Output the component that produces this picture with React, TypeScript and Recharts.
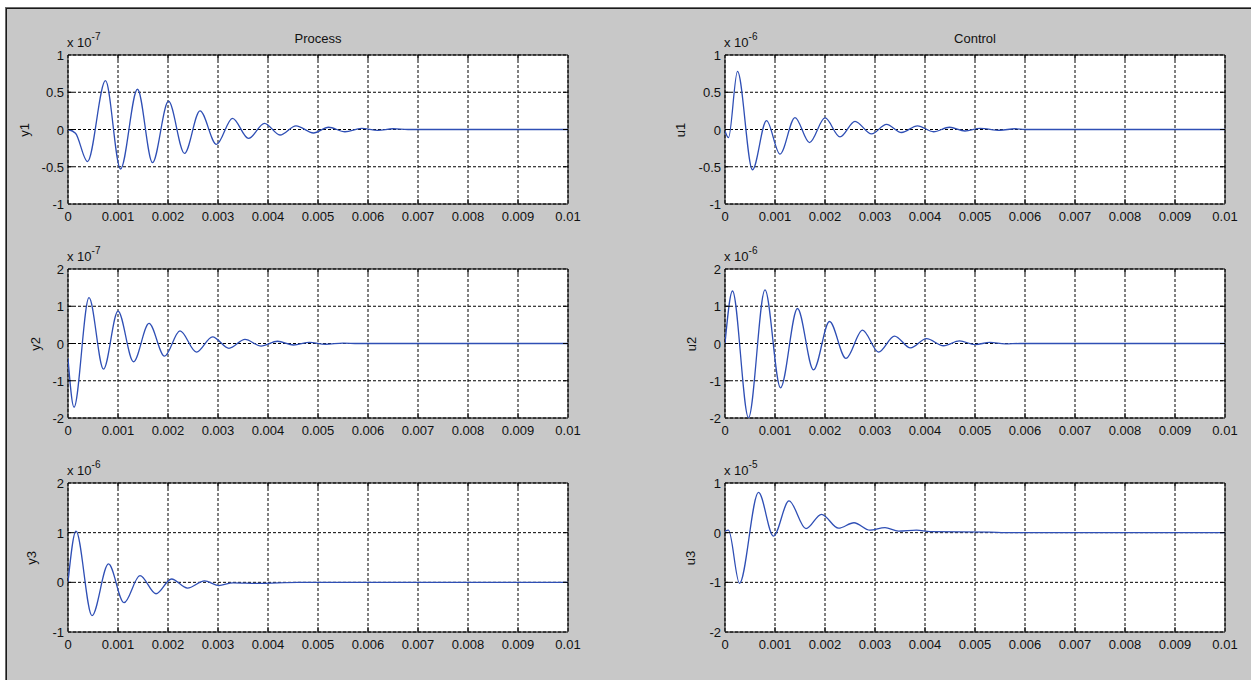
import { LineChart, Line, XAxis, YAxis, CartesianGrid, ReferenceArea } from 'recharts'

// time axis (seconds)
const xTicks = [0, 0.001, 0.002, 0.003, 0.004, 0.005, 0.006, 0.007, 0.008, 0.009, 0.01]
const xTickLabels = ['0', '0.001', '0.002', '0.003', '0.004', '0.005', '0.006', '0.007', '0.008', '0.009', '0.01']

// y1 (x 1e-7)
const y1Time = [0, 0.00015, 0.00039, 0.00075, 0.00105, 0.00139, 0.00169, 0.00201, 0.00233, 0.00264, 0.00297, 0.00329, 0.00361, 0.00393, 0.00424, 0.00456, 0.00491, 0.00521, 0.00554, 0.00587, 0.0062, 0.0065, 0.0068, 0.01]
const y1Values = [0, -0.05, -0.43, 0.655, -0.53, 0.54, -0.445, 0.38, -0.32, 0.25, -0.2, 0.15, -0.12, 0.083, -0.074, 0.05, -0.047, 0.03, -0.03, 0.015, -0.012, 0.01, 0, 0]

// y2 (x 1e-7)
const y2Time = [0, 0.00012, 0.00042, 0.00071, 0.001, 0.00131, 0.00162, 0.00193, 0.00224, 0.00257, 0.00289, 0.00322, 0.00354, 0.00386, 0.00419, 0.00451, 0.00483, 0.00515, 0.0055, 0.0058, 0.01]
const y2Values = [-0.4, -1.71, 1.23, -0.69, 0.87, -0.49, 0.54, -0.34, 0.34, -0.23, 0.18, -0.13, 0.11, -0.07, 0.06, -0.04, 0.03, -0.02, 0.01, 0, 0]

// y3 (x 1e-6)
const y3Time = [0, 0.00016, 0.00048, 0.00081, 0.00112, 0.00144, 0.00176, 0.00207, 0.00239, 0.00273, 0.00301, 0.0033, 0.0038, 0.0046, 0.01]
const y3Values = [0, 1.03, -0.67, 0.37, -0.41, 0.135, -0.23, 0.067, -0.115, 0.03, -0.065, -0.01, -0.02, 0, 0]

// u1 (x 1e-6)
const u1Time = [0, 0.00007, 0.00025, 0.00055, 0.00083, 0.0011, 0.0014, 0.00169, 0.002, 0.0023, 0.0026, 0.00293, 0.00323, 0.00353, 0.00385, 0.00417, 0.00449, 0.0048, 0.0051, 0.0055, 0.0058, 0.006, 0.01]
const u1Values = [-0.02, -0.11, 0.78, -0.54, 0.12, -0.33, 0.16, -0.175, 0.155, -0.1, 0.11, -0.06, 0.07, -0.04, 0.05, -0.03, 0.03, -0.02, 0.015, -0.01, 0.01, 0, 0]

// u2 (x 1e-6)
const u2Time = [0, 0.00015, 0.00047, 0.0008, 0.00111, 0.00145, 0.00177, 0.00209, 0.00242, 0.00275, 0.00307, 0.00339, 0.00371, 0.00403, 0.00437, 0.00469, 0.005, 0.0053, 0.0056, 0.0059, 0.01]
const u2Values = [0, 1.41, -1.99, 1.44, -1.19, 0.94, -0.71, 0.59, -0.4, 0.36, -0.23, 0.2, -0.12, 0.13, -0.06, 0.07, -0.03, 0.03, -0.01, 0, 0]

// u3 (x 1e-5)
const u3Time = [0, 0.00007, 0.00029, 0.00067, 0.00097, 0.00128, 0.00162, 0.00193, 0.00227, 0.00258, 0.0029, 0.0032, 0.00347, 0.00383, 0.0041, 0.0053, 0.0056, 0.01]
const u3Values = [0.03, 0.05, -1.02, 0.81, -0.07, 0.64, 0.08, 0.37, 0.09, 0.2, 0.05, 0.1, 0.03, 0.05, 0.02, 0.01, 0, 0]

// y tick sets
const ticksHalf = [-1, -0.5, 0, 0.5, 1]
const ticksHalfLabels = ['-1', '-0.5', '0', '0.5', '1']
const ticksTwo = [-2, -1, 0, 1, 2]
const ticksTwoLabels = ['-2', '-1', '0', '1', '2']
const ticksY3 = [-1, 0, 1, 2]
const ticksY3Labels = ['-1', '0', '1', '2']
const ticksU3 = [-2, -1, 0, 1]
const ticksU3Labels = ['-2', '-1', '0', '1']

const FONT = '"Liberation Sans", Arial, sans-serif'
const LINE = '#2f4fb5'
const TEXT = '#111'
const PLOT_W = 500
const PLOT_H = 149
const Y_AXIS_W = 60
const TOP = 12
const RIGHT = 30

const zip = (t: number[], v: number[]) => t.map((time, i) => ({ time, value: v[i] }))

type Panel = {
  name: string
  exp: string
  title?: string
  data: { time: number; value: number }[]
  yTicks: number[]
  yLabels: string[]
  left: number
  top: number
  labelX: number
}

const panels: Panel[] = [
  { name: 'y1', exp: '-7', title: 'Process', data: zip(y1Time, y1Values), yTicks: ticksHalf, yLabels: ticksHalfLabels, left: 68, top: 55, labelX: 24 },
  { name: 'y2', exp: '-7', data: zip(y2Time, y2Values), yTicks: ticksTwo, yLabels: ticksTwoLabels, left: 68, top: 269, labelX: 35 },
  { name: 'y3', exp: '-6', data: zip(y3Time, y3Values), yTicks: ticksY3, yLabels: ticksY3Labels, left: 68, top: 483, labelX: 31 },
  { name: 'u1', exp: '-6', title: 'Control', data: zip(u1Time, u1Values), yTicks: ticksHalf, yLabels: ticksHalfLabels, left: 725, top: 55, labelX: 680 },
  { name: 'u2', exp: '-6', data: zip(u2Time, u2Values), yTicks: ticksTwo, yLabels: ticksTwoLabels, left: 725, top: 269, labelX: 691 },
  { name: 'u3', exp: '-5', data: zip(u3Time, u3Values), yTicks: ticksU3, yLabels: ticksU3Labels, left: 725, top: 483, labelX: 690 },
]

const XTick = (props: any) => {
  const { x, y, payload } = props
  const i = xTicks.indexOf(payload.value)
  const inner = i > 0 && i < xTicks.length - 1
  return (
    <g>
      {inner && <line x1={x} x2={x} y1={y} y2={y - 5} stroke="#000" />}
      {inner && <line x1={x} x2={x} y1={y - PLOT_H} y2={y - PLOT_H + 5} stroke="#000" />}
      <text x={x} y={y + 17} textAnchor="middle" fontSize={13} fontFamily={FONT} fill={TEXT}>
        {xTickLabels[i]}
      </text>
    </g>
  )
}

const makeYTick = (ticks: number[], labels: string[]) => (props: any) => {
  const { x, y, payload } = props
  const i = ticks.indexOf(payload.value)
  const inner = i > 0 && i < ticks.length - 1
  return (
    <g>
      {inner && <line x1={x} x2={x + 5} y1={y} y2={y} stroke="#000" />}
      {inner && <line x1={x + PLOT_W} x2={x + PLOT_W - 5} y1={y} y2={y} stroke="#000" />}
      <text x={x - 4} y={y + 5} textAnchor="end" fontSize={13} fontFamily={FONT} fill={TEXT}>
        {labels[i]}
      </text>
    </g>
  )
}

const PanelChart = ({ p }: { p: Panel }) => {
  const yMin = p.yTicks[0]
  const yMax = p.yTicks[p.yTicks.length - 1]
  return (
    <>
      <div style={{ position: 'absolute', left: p.left - Y_AXIS_W, top: p.top - TOP }}>
        <LineChart width={Y_AXIS_W + PLOT_W + RIGHT} height={TOP + PLOT_H + 30} data={p.data} margin={{ top: TOP, right: RIGHT, left: 0, bottom: 0 }}>
          <CartesianGrid stroke="#000" strokeDasharray="3 2" fill="#fff" fillOpacity={1} zIndex={-100} />
          <XAxis
            dataKey="time"
            type="number"
            domain={[0, 0.01]}
            ticks={xTicks}
            interval={0}
            height={30}
            axisLine={false}
            tickLine={false}
            tickSize={0}
            tickMargin={0}
            tick={(props: any) => <XTick {...props} />}
            allowDataOverflow
          />
          <YAxis
            type="number"
            domain={[yMin, yMax]}
            ticks={p.yTicks}
            interval={0}
            width={Y_AXIS_W}
            axisLine={false}
            tickLine={false}
            tickSize={0}
            tickMargin={0}
            tick={makeYTick(p.yTicks, p.yLabels)}
            allowDataOverflow
          />
          <ReferenceArea x1={0} x2={0.01} y1={yMin} y2={yMax} fill="none" stroke="#000" strokeWidth={1} />
          <Line type="monotone" dataKey="value" stroke={LINE} strokeWidth={1.3} dot={false} isAnimationActive={false} zIndex={1000} />
        </LineChart>
      </div>
      <div style={{ position: 'absolute', left: p.left - 1, top: p.top - 20, fontSize: 13, lineHeight: '15px', fontFamily: FONT, color: TEXT, whiteSpace: 'nowrap' }}>
        x 10<span style={{ position: 'relative', top: -7, fontSize: 10 }}>{p.exp}</span>
      </div>
      {p.title && (
        <div style={{ position: 'absolute', left: p.left, width: PLOT_W, top: p.top - 24, textAlign: 'center', fontSize: 13, lineHeight: '15px', fontFamily: FONT, color: TEXT }}>
          {p.title}
        </div>
      )}
      <div style={{ position: 'absolute', left: p.labelX, top: p.top + PLOT_H / 2, transform: 'translate(-50%, -50%) rotate(-90deg)', fontSize: 13, lineHeight: '15px', fontFamily: FONT, color: TEXT }}>
        {p.name}
      </div>
    </>
  )
}

export default function App() {
  return (
    <div style={{ position: 'fixed', left: 0, top: 0, width: 1251, height: 680, background: '#fff', overflow: 'hidden' }}>
      <div style={{ position: 'absolute', left: 5, top: 7, width: 1246, height: 673, borderLeft: '1px solid #6a6a6a', borderTop: '1px solid #6a6a6a', boxSizing: 'border-box' }}>
        <div style={{ position: 'absolute', inset: 0, borderLeft: '1px solid #1a1a1a', borderTop: '1px solid #1a1a1a', background: '#c8c8c8' }} />
      </div>
      {panels.map(p => (
        <PanelChart key={p.name} p={p} />
      ))}
    </div>
  )
}
